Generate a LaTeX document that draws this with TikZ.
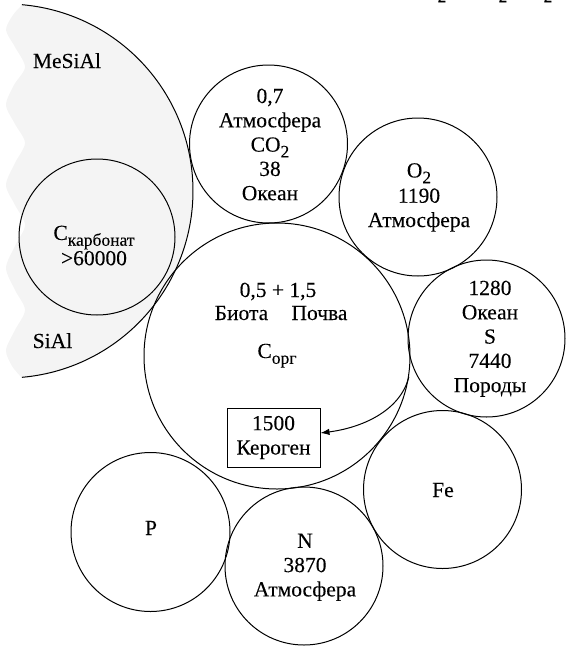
\documentclass[tikz,border=0pt]{standalone}
\usepackage{fontspec}
\setmainfont{Liberation Serif}[FakeBold=0.12]
\usetikzlibrary{arrows.meta}
\newcommand\lsub[1]{\raisebox{-0.27em}{\fontsize{17.5pt}{17.5pt}\selectfont #1}}
\begin{document}
\begin{tikzpicture}[x=1pt,y=-1pt,
  ring/.style={draw, circle, line width=1pt, inner sep=0pt},
  lbl/.style={font=\fontsize{21.5pt}{24.3pt}\selectfont, align=center, inner sep=0pt},
  frag/.style={font=\fontsize{17.5pt}{17.5pt}\selectfont, inner sep=0pt, anchor=south},
  conn/.style={line width=1pt, -{Latex[length=9pt,width=6.5pt]}}
]
\useasboundingbox (0,0) rectangle (566,646);
% mantle shell
\fill[gray!9] plot[domain=85.1:-85.1,samples=120] ({6+187*cos(\x)},{191-187*sin(\x)})
  -- plot[smooth] coordinates {(22,378) (12,366) (6,350) (15,330) (25,310) (15,290) (6,268) (15,246) (25,225) (15,205) (6,185) (15,163) (25,143) (15,124) (6,105) (14,85) (25,67) (15,47) (6,30) (13,15) (22,5)} -- cycle;
\draw[line width=1pt] plot[domain=85.1:-85.1,samples=120] ({6+187*cos(\x)},{191-187*sin(\x)});
\node[lbl, anchor=base] (mesial) at (67,68) {MeSiAl};
\node[lbl, anchor=base] (sial) at (52.5,348) {SiAl};
% circles
\node[ring, minimum size=156pt] (carb) at (97,237) {};
\node[ring, minimum size=158pt] (co2) at (268.5,144) {};
\node[ring, minimum size=158pt] (o2) at (418,197) {};
\node[ring, minimum size=266pt] (corg) at (277,356) {};
\node[ring, minimum size=157pt] (s) at (486.5,338.5) {};
\node[ring, minimum size=158pt] (fe) at (442.5,489.5) {};
\node[ring, minimum size=159pt] (p) at (150.5,532) {};
\node[ring, minimum size=158pt] (n) at (304,566) {};
% texts
\node[lbl, anchor=north] (carbt) at (94,225.5) {C\lsub{карбонат}\\[1pt]>60000};
\node[lbl, anchor=north] (co2t) at (270,88.5) {0,7\\Атмосфера\\CO\lsub{2}\\38\\Океан};
\node[lbl, anchor=north] (o2t) at (419,163) {O\lsub{2}\\[1pt]1190\\Атмосфера};
\node[lbl, anchor=north] (st) at (490,280.5) {1280\\Океан\\S\\7440\\Породы};
\node[lbl, anchor=north] (nt) at (305,533.5) {N\\3870\\Атмосфера};
\node[lbl, anchor=base] (corgnum) at (278,297) {0,5 + 1,5};
\node[lbl, anchor=base] (biota) at (241.5,320) {Биота};
\node[lbl, anchor=base] (pochva) at (319.5,320) {Почва};
\node[lbl, anchor=base] (corgl) at (277,358) {C\lsub{орг}};
\node[lbl, anchor=base] (fet) at (443,497) {Fe};
\node[lbl, anchor=base] (pt) at (151,535) {P};
\node[lbl, draw, line width=1pt, minimum width=93pt, minimum height=59pt] (ker) at (273.5,437.5) {1500\\Кероген};
\draw[conn] (corg.-9) .. controls (400,412) and (360,428) .. ([yshift=4.5pt]ker.east);
% fragments of a cut-off line at the top
\node[frag] (f1) at (442,2.5) {2};
\node[frag] (f2) at (503,2.5) {2};
\node[frag] (f3) at (548,2.5) {2};
\end{tikzpicture}
\end{document}
